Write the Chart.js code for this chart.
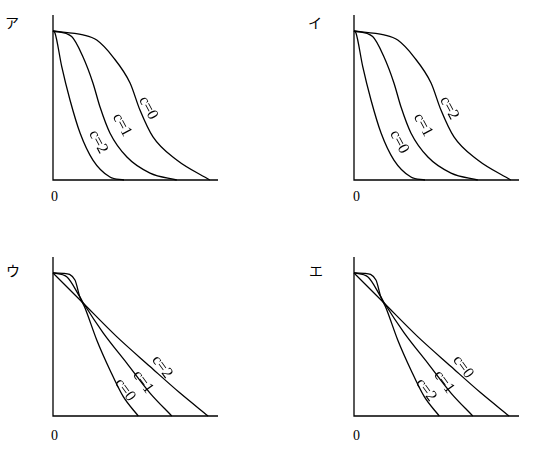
<!DOCTYPE html>
<html>
<head>
<meta charset="utf-8">
<script src="https://cdn.jsdelivr.net/npm/chart.js@4"></script>
<style>
  body { margin: 0; background: #fff; }
  #wrap { position: relative; width: 536px; height: 455px; }
  canvas { position: absolute; }
  .tag { position: absolute; font: 14px "Noto Sans CJK JP"; color: #000; }
  .zero { position: absolute; font: 14px "Liberation Serif"; color: #000; }
</style>
</head>
<body>
<div id="wrap">
  <div class="tag" style="left:5px;top:12px">ア</div>
  <div class="tag" style="left:308px;top:12px">イ</div>
  <div class="tag" style="left:6px;top:260px">ウ</div>
  <div class="tag" style="left:309px;top:260px">エ</div>
  <div class="zero" style="left:51px;top:189px">0</div>
  <div class="zero" style="left:353px;top:189px">0</div>
  <div class="zero" style="left:51px;top:428px">0</div>
  <div class="zero" style="left:353px;top:428px">0</div>
</div>
<script>
// curves for the top panels (x, y in 0..100 units)
const topC0 = [[0,90.3],[18.2,87.9],[26.5,84.8],[36.4,74.5],[46.7,58.8],[52.7,42.4],[60.6,26.1],[75,12.1],[95,0]];
const topC1 = [[0,90.3],[11.3,86.9],[18.2,74.5],[24.2,58.8],[28.5,44.2],[34.5,28.5],[44.8,13.9],[58.8,4.2],[75,0]];
const topC2 = [[0,90.3],[1.2,89.1],[5.3,68.7],[10.3,48.5],[16.4,28.5],[24.2,12.1],[34.5,1.8],[43,0]];
// curves for the bottom panels
const botC0 = [[0,86.7],[6.2,86.5],[13.3,82.4],[16.2,72.3],[19.4,65.5],[26.5,46.1],[34.5,27.9],[42.6,11.7],[51.7,0]];
const botC1 = [[0,86.7],[8.3,84.4],[16.2,72.3],[18.4,68.5],[30.5,50.3],[44.7,32.1],[58.8,13.9],[72,0]];
const botC2 = [[0,86.7],[17.6,69.1],[38.6,48.1],[58.8,30],[77,13.9],[94,0]];
// label positions (outer, middle, inner)
const topLabelPos = [[57.6,43.6],[41.8,33.3],[27.3,23]];
const botLabelPos = [[66,29.7],[54.5,20.6],[43.6,15.8]];

const pad = 6;
const size = 165;

const panels = [
  { left: 53, bottom: 180, curves: [topC0, topC1, topC2], names: ['c=0','c=1','c=2'], pos: topLabelPos, rot: 62, yTop: 100 },
  { left: 354, bottom: 180, curves: [topC0, topC1, topC2], names: ['c=2','c=1','c=0'], pos: topLabelPos, rot: 62, yTop: 100 },
  { left: 53, bottom: 416, curves: [botC2, botC1, botC0], names: ['c=2','c=1','c=0'], pos: botLabelPos, rot: 54, yTop: 96.4 },
  { left: 354, bottom: 416, curves: [botC2, botC1, botC0], names: ['c=0','c=1','c=2'], pos: botLabelPos, rot: 54, yTop: 96.4 }
];

const decor = {
  id: 'decor',
  afterDatasetsDraw(chart, args, opts) {
    const { ctx, scales: { x, y } } = chart;
    ctx.save();
    ctx.strokeStyle = '#000';
    ctx.lineWidth = 1.3;
    ctx.beginPath();
    ctx.moveTo(x.getPixelForValue(0), y.getPixelForValue(opts.yTop));
    ctx.lineTo(x.getPixelForValue(0), y.getPixelForValue(0));
    ctx.lineTo(x.getPixelForValue(100), y.getPixelForValue(0));
    ctx.stroke();
    ctx.fillStyle = '#000';
    ctx.font = '16px "Liberation Serif"';
    ctx.textAlign = 'center';
    ctx.textBaseline = 'middle';
    opts.names.forEach((n, i) => {
      ctx.save();
      ctx.translate(x.getPixelForValue(opts.pos[i][0]), y.getPixelForValue(opts.pos[i][1]));
      ctx.rotate(opts.rot * Math.PI / 180);
      ctx.fillText(n, 0, 0);
      ctx.restore();
    });
    ctx.restore();
  }
};

const wrap = document.getElementById('wrap');
panels.forEach(p => {
  const cv = document.createElement('canvas');
  cv.style.left = (p.left - pad) + 'px';
  cv.style.top = (p.bottom - size - pad) + 'px';
  cv.style.width = (size + 2 * pad) + 'px';
  cv.style.height = (size + 2 * pad) + 'px';
  cv.width = size + 2 * pad;
  cv.height = size + 2 * pad;
  wrap.appendChild(cv);
  new Chart(cv, {
    type: 'line',
    data: {
      datasets: p.curves.map(c => ({
        data: c.map(pt => ({ x: pt[0], y: pt[1] })),
        borderColor: '#000',
        borderWidth: 1.3,
        pointRadius: 0,
        fill: false,
        cubicInterpolationMode: 'monotone',
        clip: false
      }))
    },
    options: {
      responsive: false,
      animation: false,
      layout: { padding: pad },
      plugins: { legend: { display: false }, tooltip: { enabled: false },
        decor: { names: p.names, pos: p.pos, rot: p.rot, yTop: p.yTop } },
      scales: {
        x: { type: 'linear', min: 0, max: 100, display: false },
        y: { min: 0, max: 100, display: false }
      }
    },
    plugins: [decor]
  });
});
</script>
</body>
</html>
